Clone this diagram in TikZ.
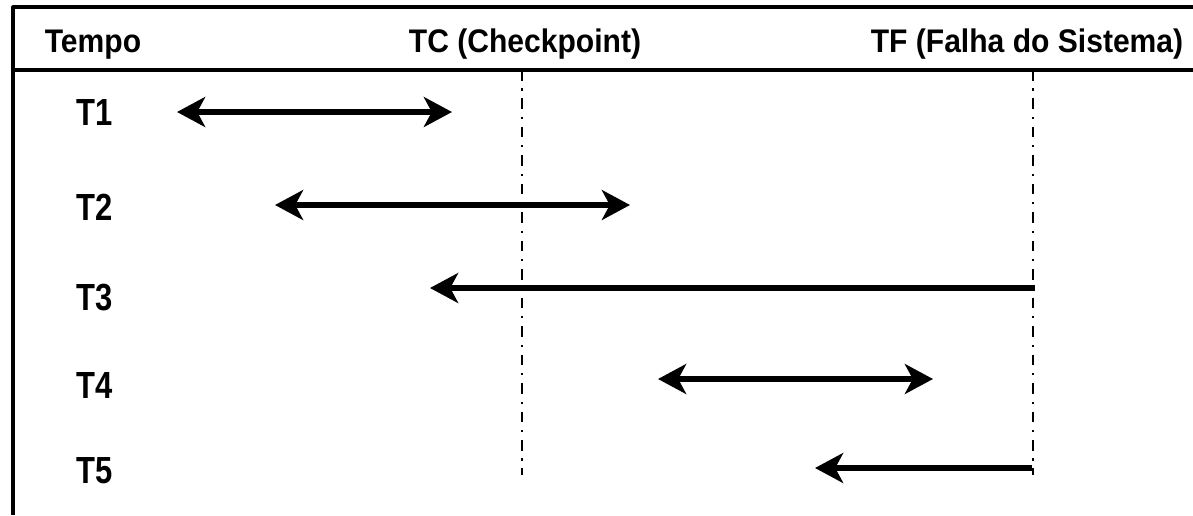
\documentclass[tikz,border=0pt]{standalone}
\usepackage{graphicx}
\usepackage{fontspec}
\setmainfont{Liberation Sans}
\usetikzlibrary{arrows.meta,positioning}
\newcommand{\estreito}[2]{\scalebox{#1}[1]{#2}}

\begin{document}
\begin{tikzpicture}[x=0.02cm,y=-0.02cm,line join=round,
  moldura/.style={line width=1.8pt},
  marco/.style={line width=1.6pt,dash pattern=on 6pt off 4.5pt on 1.2pt off 4.5pt},
  ponta/.tip={Stealth[length=16pt,width=17pt,inset=4.5pt]},
  vida/.style={line width=3.3pt,ponta-ponta},
  refaz/.style={line width=3.3pt,ponta-},
  cab/.style={anchor=base,font=\fontsize{18.6pt}{21pt}\selectfont\bfseries},
  trans/.style={font=\fontsize{21.5pt}{24pt}\selectfont\bfseries}]
\useasboundingbox (0,0) rectangle (1193,515);
% moldura
\coordinate (NO) at (13,7);
\coordinate (NE) at (1193,7);
\coordinate (SO) at (13,515);
\coordinate (LO) at (13,70);
\coordinate (LE) at (1193,70);
\draw[moldura] (NE)--(NO)--(SO) (LO)--(LE);
% cabecalho
\node[cab] (tempo) at (93,52) {\estreito{0.92}{Tempo}};
\node[cab] (tc) at (525,52) {\estreito{0.92}{TC (Checkpoint)}};
\node[cab] (tf) at (1027,52) {\estreito{0.92}{TF (Falha do Sistema)}};
% linhas de checkpoint e falha
\coordinate (TCa) at (522,70);
\coordinate (TCb) at (522,475);
\coordinate (TFa) at (1033,70);
\coordinate (TFb) at (1033,475);
\draw[marco] (TCa)--(TCb) (TFa)--(TFb);
% transacoes
\foreach \t/\y in {1/112,2/207,3/298,4/385,5/471}{
  \node[trans] (T\t) at (95,\y) {\estreito{0.82}{T\t}};}
\coordinate (a1) at (177,112);
\coordinate (b1) at (452,112);
\coordinate (a2) at (275,205);
\coordinate (b2) at (630,205);
\coordinate (a3) at (430,288);
\coordinate (b3) at (1035,288);
\coordinate (a4) at (658,379);
\coordinate (b4) at (933,379);
\coordinate (a5) at (815,468);
\coordinate (b5) at (1032,468);
\draw[vida] (a1)--(b1);
\draw[vida] (a2)--(b2);
\draw[refaz] (a3)--(b3);
\draw[vida] (a4)--(b4);
\draw[refaz] (a5)--(b5);
\end{tikzpicture}
\end{document}
